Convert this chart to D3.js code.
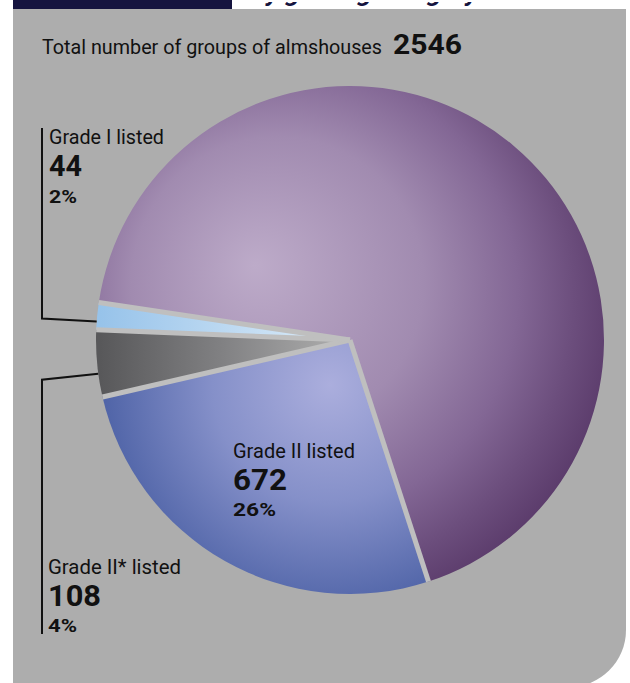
<!DOCTYPE html>
<html><head><meta charset="utf-8">
<script src="https://cdn.jsdelivr.net/npm/d3@7"></script>
<style>html,body{margin:0;padding:0;background:#fff;overflow:hidden}</style>
</head><body>
<svg id="c" width="630" height="683"></svg>
<script>
const categories = ["Grade II listed", "Grade II* listed", "Grade I listed", "Not listed"];
const values = [672, 108, 44, 1722];
const titleText = "Total number of groups of almshouses";
const headerText = "by grading category";

const total = d3.sum(values);
const svg = d3.select("#c");
const F = "Roboto, 'DejaVu Sans', sans-serif";

// panel
const px = 13, py = 9, pr = 626, pb = 687, rad = 57;
svg.append("path")
  .attr("d", `M${px},${py}H${pr}V${pb-rad}A${rad},${rad} 0 0 1 ${pr-rad},${pb}H${px}Z`)
  .attr("fill", "#adadad");
svg.append("rect").attr("x", px).attr("y", 0).attr("width", 219).attr("height", py).attr("fill", "#15143f");
const defs = svg.append("defs");
defs.append("clipPath").attr("id", "hclip").append("rect")
  .attr("x", 232).attr("y", 2).attr("width", 394).attr("height", 6);
svg.append("text").attr("x", 252).attr("y", 1).attr("clip-path", "url(#hclip)")
  .attr("font-family", F).attr("font-size", 24).attr("font-weight", 700).attr("font-style", "italic")
  .attr("fill", "#15143f").attr("textLength", 226).attr("lengthAdjust", "spacingAndGlyphs")
  .text(headerText);

// gradients (coordinates relative to the pie centre)
const cx = 350, cy = 340, R = 254;
function radial(id, c, f, r, stops) {
  const g = defs.append("radialGradient").attr("id", id).attr("gradientUnits", "userSpaceOnUse")
    .attr("cx", c[0] - cx).attr("cy", c[1] - cy).attr("r", r).attr("fx", f[0] - cx).attr("fy", f[1] - cy);
  stops.forEach(s => g.append("stop").attr("offset", s[0]).attr("stop-color", s[1]));
}
function linear(id, x1, x2, stops) {
  const g = defs.append("linearGradient").attr("id", id).attr("gradientUnits", "userSpaceOnUse")
    .attr("x1", x1 - cx).attr("x2", x2 - cx).attr("y1", 0).attr("y2", 0);
  stops.forEach(s => g.append("stop").attr("offset", s[0]).attr("stop-color", s[1]));
}
radial("gPurple", [305, 305], [255, 265], 325,
  [[0, "#bdabc9"], [0.45, "#a18bb0"], [0.7, "#836795"], [0.85, "#6c4e7d"], [1, "#573767"]]);
radial("gBlue", [330, 385], [330, 385], 235,
  [[0, "#abaedd"], [0.5, "#8590c9"], [1, "#4c61a5"]]);
linear("gGray", 100, 345, [[0, "#58585a"], [0.5, "#818183"], [1, "#aeaeae"]]);
linear("gLight", 100, 320, [[0, "#97c3ea"], [1, "#d8e9f7"]]);
const fills = ["url(#gBlue)", "url(#gGray)", "url(#gLight)", "url(#gPurple)"];

const start = 162 * Math.PI / 180;
const pie = d3.pie().sort(null).startAngle(start).endAngle(start + 2 * Math.PI);
const arcs = pie(values);
const arc = d3.arc().innerRadius(0).outerRadius(R);
const g = svg.append("g").attr("transform", `translate(${cx},${cy})`);
g.selectAll("path.slice").data(arcs).join("path").attr("class", "slice")
  .attr("d", arc).attr("fill", (d, i) => fills[i]);
// radial separators
g.selectAll("line.sep").data(arcs).join("line").attr("class", "sep")
  .attr("x1", 0).attr("y1", 0)
  .attr("x2", d => R * Math.sin(d.startAngle)).attr("y2", d => -R * Math.cos(d.startAngle))
  .attr("stroke", "#bfbfbf").attr("stroke-width", 5);

function txt(x, y, s, size, weight, len) {
  const t = svg.append("text").attr("x", x).attr("y", y).attr("font-family", F)
    .attr("font-size", size).attr("font-weight", weight).attr("fill", "#111").text(s);
  if (len) t.attr("textLength", len).attr("lengthAdjust", "spacingAndGlyphs");
  return t;
}
txt(42, 54, titleText, 20, 400, 340);
txt(393, 54, String(total), 28, 700, 69);

const pct = v => Math.round(v / total * 100) + "%";

function edge(i, f) {
  const a = arcs[i].startAngle + (arcs[i].endAngle - arcs[i].startAngle) * f;
  return [cx + R * Math.sin(a), cy - R * Math.cos(a)];
}

// Grade I
const e1 = edge(2, 0.3);
svg.append("path").attr("d", `M42,128V${e1[1] - 3}L${e1[0]},${e1[1]}`)
  .attr("fill", "none").attr("stroke", "#111").attr("stroke-width", 2);
txt(49, 144, categories[2], 21, 400, 115);
txt(49, 176, String(values[2]), 30, 700, 33);
txt(49, 203, pct(values[2]), 18, 700, 28);

// Grade II*
const e2 = edge(1, 0.35);
svg.append("path").attr("d", `M${e2[0]},${e2[1]}L42,${e2[1] + 6}V634`)
  .attr("fill", "none").attr("stroke", "#111").attr("stroke-width", 2);
txt(48, 574, categories[1], 21, 400, 133);
txt(48, 606, String(values[1]), 30, 700, 53);
txt(48, 632, pct(values[1]), 18, 700, 29);

// Grade II
txt(233, 458, categories[0], 21, 400, 122);
txt(233, 490, String(values[0]), 30, 700, 54);
txt(233, 516, pct(values[0]), 18, 700, 43);
</script>
</body></html>
